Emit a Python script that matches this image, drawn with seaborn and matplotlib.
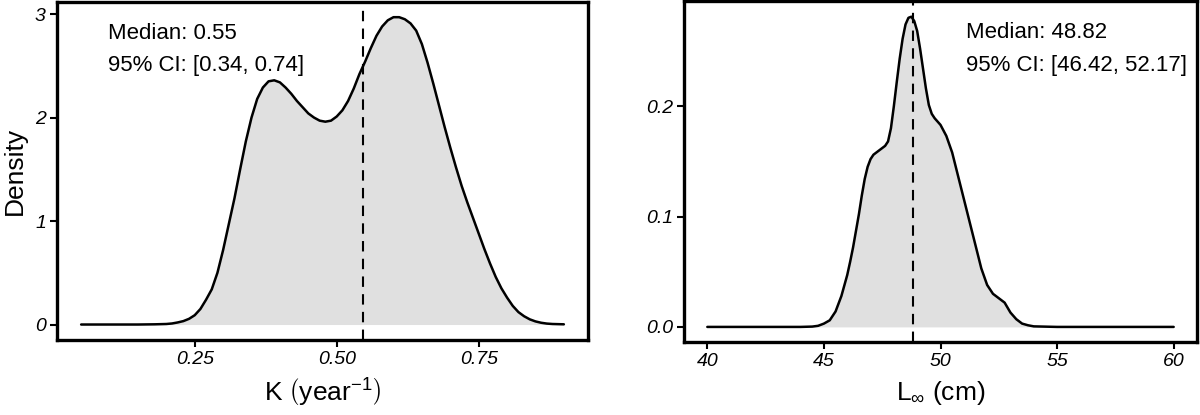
import numpy as np
import pandas as pd
import seaborn as sns
import matplotlib.pyplot as plt

# Densità di K (year^-1)
k_x = [0.05, 0.10, 0.15, 0.18, 0.20, 0.21, 0.22, 0.23, 0.24, 0.25, 0.26, 0.27,
       0.28, 0.29, 0.30, 0.31, 0.32, 0.33, 0.34, 0.35, 0.36, 0.37, 0.38, 0.39,
       0.40, 0.41, 0.42, 0.43, 0.44, 0.45, 0.46, 0.47, 0.48, 0.49, 0.50, 0.51,
       0.52, 0.53, 0.54, 0.55, 0.56, 0.57, 0.58, 0.59, 0.60, 0.61, 0.62, 0.63,
       0.64, 0.65, 0.66, 0.67, 0.68, 0.69, 0.70, 0.71, 0.72, 0.73, 0.74, 0.75,
       0.76, 0.77, 0.78, 0.79, 0.80, 0.81, 0.82, 0.83, 0.84, 0.85, 0.86, 0.87,
       0.88, 0.90]
k_dens = [0.000, 0.000, 0.000, 0.002, 0.005, 0.010, 0.020, 0.033, 0.055, 0.09,
          0.15, 0.24, 0.34, 0.50, 0.72, 0.97, 1.22, 1.50, 1.77, 2.00, 2.18, 2.29,
          2.35, 2.36, 2.34, 2.29, 2.23, 2.16, 2.10, 2.04, 2.00, 1.97, 1.96, 1.97,
          2.01, 2.07, 2.16, 2.28, 2.42, 2.54, 2.67, 2.79, 2.88, 2.94, 2.97, 2.97,
          2.95, 2.91, 2.84, 2.71, 2.53, 2.33, 2.12, 1.91, 1.71, 1.52, 1.34, 1.18,
          1.03, 0.88, 0.73, 0.59, 0.46, 0.35, 0.26, 0.18, 0.12, 0.08, 0.05, 0.03,
          0.017, 0.009, 0.005, 0.002]

# Densità di L_inf (cm)
l_x = [40, 42, 44, 44.5, 44.75, 45, 45.25, 45.5, 45.75, 46, 46.125, 46.25,
       46.375, 46.5, 46.625, 46.75, 46.875, 47, 47.125, 47.25, 47.375, 47.5,
       47.625, 47.75, 47.875, 48, 48.125, 48.25, 48.375, 48.5, 48.625, 48.75,
       48.875, 49, 49.125, 49.25, 49.375, 49.5, 49.625, 49.75, 49.875, 50,
       50.25, 50.5, 50.75, 51, 51.25, 51.5, 51.75, 52, 52.25, 52.5, 52.75,
       53, 53.25, 53.5, 53.75, 54, 55, 56, 58, 60]
l_dens = [0, 0, 0, 0.0003, 0.001, 0.003, 0.006, 0.014, 0.028, 0.047, 0.059,
          0.072, 0.087, 0.102, 0.119, 0.134, 0.145, 0.152, 0.156, 0.158, 0.160,
          0.162, 0.164, 0.168, 0.180, 0.200, 0.222, 0.243, 0.261, 0.274, 0.280,
          0.281, 0.277, 0.268, 0.252, 0.234, 0.216, 0.201, 0.193, 0.189, 0.186,
          0.183, 0.173, 0.158, 0.137, 0.116, 0.095, 0.074, 0.053, 0.038, 0.030,
          0.026, 0.022, 0.013, 0.007, 0.003, 0.0015, 0.0005, 0, 0, 0, 0]

k_median = 0.546
l_median = 48.82
k_text = ["Median: 0.55", "95% CI: [0.34, 0.74]"]
l_text = ["Median: 48.82", "95% CI: [46.42, 52.17]"]

k_xticks = [0.25, 0.50, 0.75]
k_yticks = [0, 1, 2, 3]
l_xticks = [40, 45, 50, 55, 60]
l_yticks = [0.0, 0.1, 0.2]

sns.set_theme(style="ticks")
plt.rcParams["font.family"] = ["Liberation Sans", "DejaVu Sans"]
plt.rcParams["mathtext.fontset"] = "custom"
plt.rcParams["mathtext.rm"] = "Liberation Sans"
plt.rcParams["mathtext.it"] = "Liberation Sans:italic"
plt.rcParams["text.color"] = "black"
plt.rcParams["axes.labelcolor"] = "black"

fig = plt.figure(figsize=(12, 4.15), dpi=100)
ax1 = fig.add_axes([0.0475, 0.181, 0.4425, 0.815])
ax2 = fig.add_axes([0.570, 0.175, 0.4275, 0.822])

df_k = pd.DataFrame({"x": k_x, "d": k_dens})
df_l = pd.DataFrame({"x": l_x, "d": l_dens})


def pannello(ax, df, med, testo, xticks, yticks, yfmt, xlab, xlim, ylim, tx):
    ax.fill_between(df["x"], 0, df["d"], color="#E0E0E0", lw=0)
    sns.lineplot(data=df, x="x", y="d", ax=ax, color="black", lw=1.8)
    ax.axvline(med, color="black", lw=1.5, dashes=(5, 3.5))
    ax.set_xlim(xlim)
    ax.set_ylim(ylim)
    ax.set_xticks(xticks)
    ax.set_xticklabels([f"{v:.2f}" if isinstance(v, float) else str(v) for v in xticks])
    ax.set_yticks(yticks)
    ax.set_yticklabels([yfmt.format(v) for v in yticks])
    for lab in ax.get_xticklabels() + ax.get_yticklabels():
        lab.set_fontstyle("italic")
        lab.set_fontsize(14)
        lab.set_color("black")
    ax.tick_params(length=5, width=1.5, color="black", pad=3)
    for s in ax.spines.values():
        s.set_visible(True)
        s.set_linewidth(2.4)
        s.set_color("black")
    ax.set_xlabel(xlab, fontsize=19, labelpad=6, color="black")
    ax.set_ylabel("")
    ax.text(tx, 0.907, testo[0], transform=ax.transAxes, fontsize=16,
            va="center", ha="left", color="black")
    ax.text(tx, 0.812, testo[1], transform=ax.transAxes, fontsize=16,
            va="center", ha="left", color="black")


pannello(ax1, df_k, k_median, k_text, k_xticks, k_yticks, "{:d}",
         r"K $\left(\mathrm{year}^{-1}\right)$", (0.0075, 0.9425),
         (-0.1485, 3.12), 0.096)
ax1.set_ylabel("Density", fontsize=19, labelpad=6, color="black")

pannello(ax2, df_l, l_median, l_text, l_xticks, l_yticks, "{:.1f}",
         r"L$_{\infty}$ (cm)", (39, 61), (-0.014, 0.295), 0.549)

fig.savefig("out.png", dpi=100)
